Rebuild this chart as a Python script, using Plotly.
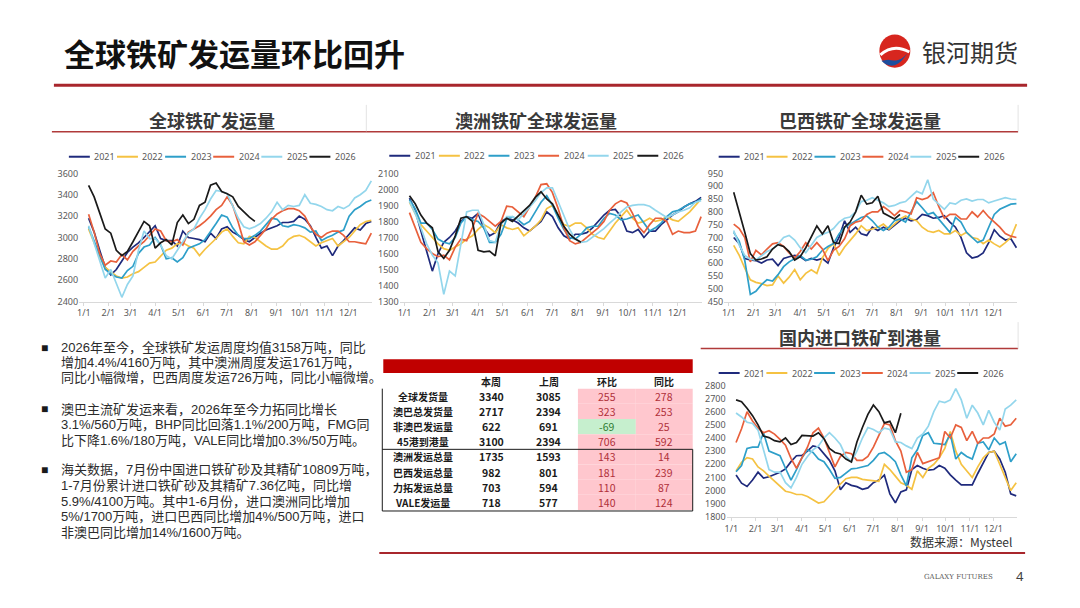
import pandas as pd
import plotly.graph_objects as go

W, H = 1080, 608
CJK = "Noto Sans CJK SC"
BODY = "Liberation Sans, Noto Sans CJK SC"


def px(x):
    return x / W


def py(y):
    return 1 - y / H


# ---- data -------------------------------------------------------------
years = ["2021", "2022", "2023", "2024", "2025", "2026"]
line_colors = ["#1F2A7C", "#F5C242", "#2E9FC9", "#E8603C", "#93D6EC", "#1A1A1A"]
weeks = pd.date_range("2021-01-07", periods=52, freq="7D")  # seasonal weekly axis

# 全球铁矿发运量
glb_2021 = [3180, 3050, 2880, 2720, 2650, 2700, 2780, 2860, 2910, 2950, 3000, 3060, 3110, 2990, 2970, 2970,
            2920, 3060, 3000, 2990, 2980, 2960, 3040, 2990, 3080, 3100, 3050, 3020, 2980, 2960, 3000, 3040,
            3070, 3090, 3110, 3140, 3140, 3150, 3200, 3170, 3110, 3000, 2900, 2920, 2830, 2920, 2970, 3030,
            3090, 3070, 3130, 3150]
glb_2022 = [3080, 2950, 2820, 2720, 2680, 2640, 2620, 2630, 2660, 2680, 2720, 2760, 2770, 2830, 2880, 2900,
            2940, 2950, 2920, 2900, 2830, 2890, 2940, 2990, 3050, 3080, 3010, 2950, 2940, 3010, 3000, 2960,
            2920, 2890, 2890, 2920, 2980, 3010, 3020, 3000, 2960, 2920, 2950, 2970, 2990, 2920, 2960, 3000,
            3060, 3120, 3150, 3160]
glb_2023 = [3100, 2960, 2830, 2700, 2660, 2630, 2620, 2690, 2730, 2850, 2910, 2930, 3000, 2930, 2800, 2810,
            2770, 2810, 2900, 2920, 2940, 2980, 3050, 3130, 3210, 3190, 3090, 3020, 2990, 2990, 3020, 3060,
            3120, 3180, 3170, 3110, 3100, 3120, 3110, 3090, 3050, 3060, 2970, 3000, 3020, 3050, 3070, 3200,
            3260, 3290, 3330, 3350]
glb_2024 = [3217, 3050, 2850, 2740, 2780, 2770, 2840, 2790, 2870, 2920, 2960, 3020, 3080, 3060, 2970, 2960,
            2980, 2930, 3050, 3080, 3110, 3150, 3200, 3260, 3300, 3380, 3300, 3140, 2960, 2930, 2960, 3020,
            3080, 3170, 3220, 3250, 3270, 3270, 3250, 3200, 3100, 3030, 3000, 3040, 3060, 3060, 3020, 2960,
            2960, 2950, 2940, 3040]
glb_2025 = [3110, 2950, 2800, 2620, 2700, 2560, 2440, 2560, 2640, 2880, 3060, 2990, 2990, 2930, 2830, 2800,
            2880, 2950, 3040, 3080, 3180, 3260, 3360, 3440, 3430, 3410, 3290, 3180, 3100, 3080, 3100, 3130,
            3180, 3240, 3330, 3260, 3300, 3290, 3300, 3400, 3320, 3310, 3290, 3260, 3250, 3290, 3270, 3300,
            3370, 3400, 3440, 3530]
glb_2026 = [3487, 3380, 3230, 3080, 3040, 2880, 2830, 2870, 2960, 3050, 3150, 3110, 2900, 2950, 2980, 2930,
            3140, 3210, 3130, 3170, 3300, 3330, 3490, 3510, 3430, 3410, 3380, 3290, 3240, 3190, 3150]

# 澳洲铁矿全球发运量
au_2021 = [1945, 1870, 1740, 1610, 1490, 1600, 1670, 1700, 1740, 1800, 1830, 1820, 1850, 1760, 1710, 1730,
           1800, 1820, 1810, 1790, 1760, 1740, 1770, 1800, 1860, 1830, 1760, 1710, 1690, 1720, 1720, 1730,
           1760, 1800, 1840, 1870, 1875, 1830, 1740, 1730, 1750, 1700, 1740, 1740, 1780, 1810, 1840, 1860,
           1890, 1910, 1925, 1950]
au_2022 = [1920, 1850, 1780, 1740, 1700, 1660, 1630, 1620, 1640, 1660, 1690, 1710, 1750, 1780, 1760, 1730,
           1780, 1760, 1750, 1760, 1710, 1740, 1770, 1810, 1880, 1900, 1840, 1780, 1770, 1790, 1790, 1760,
           1720, 1700, 1690, 1740, 1790, 1830, 1870, 1820, 1790, 1800, 1820, 1800, 1810, 1830, 1810, 1800,
           1830, 1860, 1900, 1940]
au_2023 = [1935, 1880, 1790, 1790, 1750, 1690, 1670, 1660, 1700, 1790, 1830, 1810, 1800, 1760, 1670, 1670,
           1720, 1815, 1830, 1810, 1780, 1800, 1860, 1920, 1960, 1900, 1820, 1750, 1700, 1690, 1720, 1760,
           1770, 1770, 1820, 1850, 1840, 1810, 1815, 1830, 1840, 1790, 1740, 1760, 1790, 1830, 1860, 1870,
           1890, 1910, 1920, 1940]
au_2024 = [1855, 1760, 1670, 1630, 1600, 1580, 1590, 1560, 1640, 1690, 1680, 1760, 1850, 1830, 1800, 1770,
           1800, 1895, 1890, 1860, 1830, 1890, 1950, 2030, 2035, 1980, 1880, 1760, 1680, 1660, 1670, 1700,
           1730, 1760, 1800, 1870, 1910, 1930, 1915, 1850, 1770, 1730, 1780, 1820, 1820, 1800, 1720, 1740,
           1730, 1730, 1740, 1830]
au_2025 = [1925, 1850, 1760, 1660, 1590, 1540, 1345, 1490, 1460, 1650, 1860, 1870, 1870, 1780, 1680, 1670,
           1780, 1830, 1830, 1810, 1850, 1890, 1930, 1980, 2010, 2010, 1920, 1830, 1750, 1690, 1670, 1675,
           1700, 1730, 1755, 1790, 1820, 1860, 1890, 1900, 1905, 1905, 1895, 1870, 1850, 1825, 1840, 1860,
           1870, 1885, 1920, 1930]
au_2026 = [1960, 1910, 1840, 1790, 1760, 1610, 1570, 1620, 1710, 1820, 1830, 1800, 1620, 1610, 1615, 1585,
           1790, 1820, 1800, 1835, 1870, 1900, 1950, 1985, 1940, 1910, 1840, 1770, 1720, 1690, 1670]

# 巴西铁矿全球发运量
br_2021 = [700, 676, 618, 612, 610, 600, 612, 615, 590, 618, 625, 630, 625, 610, 618, 612,
           618, 600, 660, 700, 765, 720, 740, 714, 708, 740, 727, 740, 730, 746, 765, 775,
           765, 770, 790, 785, 775, 778, 785, 760, 740, 700, 640, 620, 625, 640, 680, 730,
           705, 690, 695, 660]
br_2022 = [669, 630, 580, 535, 525, 520, 512, 515, 550, 522, 545, 575, 535, 560, 574, 560,
           620, 657, 676, 630, 663, 690, 714, 746, 727, 733, 740, 752, 733, 752, 772, 784,
           772, 765, 740, 725, 720, 727, 714, 714, 727, 708, 720, 700, 695, 676, 690, 675,
           663, 680, 700, 752]
br_2023 = [720, 685, 610, 478, 490, 516, 535, 530, 555, 586, 605, 618, 630, 612, 615, 625,
           650, 665, 676, 714, 740, 752, 765, 778, 784, 765, 740, 727, 740, 765, 772, 760,
           800, 840, 816, 790, 797, 770, 745, 720, 778, 760, 720, 700, 680, 690, 740, 790,
           810, 820, 830, 832]
br_2024 = [752, 735, 700, 605, 650, 632, 655, 675, 680, 665, 640, 620, 645, 680, 655, 680,
           655, 610, 650, 665, 695, 745, 760, 765, 790, 800, 800, 820, 805, 785, 805, 800,
           792, 855, 848, 855, 875, 820, 775, 790, 790, 772, 772, 800, 780, 805, 780, 760,
           740, 715, 705, 700]
br_2025 = [727, 670, 630, 615, 612, 630, 645, 655, 675, 700, 708, 690, 660, 640, 670, 700,
           712, 720, 735, 760, 775, 780, 800, 840, 845, 855, 845, 835, 820, 825, 835, 840,
           860, 880, 870, 925, 850, 830, 810, 835, 830, 845, 850, 842, 848, 848, 835, 842,
           850, 855, 850, 848]
br_2026 = [876, 800, 720, 637, 612, 616, 625, 655, 672, 665, 645, 612, 625, 660, 700, 745,
           714, 746, 680, 676, 740, 760, 800, 865, 830, 835, 861, 795, 784, 772, 790]

# 国内进口铁矿到港量
port_2021 = [2118, 2056, 2031, 2080, 2140, 2095, 2105, 2120, 2140, 2165, 2220, 2265, 2268, 2300, 2340, 2330,
             2280, 2230, 2150, 2006, 2060, 2040, 2030, 2010, 2020, 2060, 2080, 2118, 1975, 1907, 1990, 2005,
             2160, 2190, 2170, 2155, 2160, 2190, 2170, 2120, 2080, 2043, 2043, 2043, 2130, 2205, 2290, 2300,
             2240, 2140, 1975, 1960]
port_2022 = [2150, 2215, 2250, 2240, 2180, 2150, 2110, 2070, 2030, 1995, 1985, 1970, 1970, 1955, 1930, 1905,
             1915, 1960, 2010, 2050, 2090, 2100, 2100, 2085, 2080, 2075, 2070, 2200, 2160, 2110, 2060, 2040,
             2010, 2150, 2100, 2170, 2200, 2250, 2320, 2450, 2300, 2200, 2150, 2100, 2180, 2250, 2290, 2300,
             2200, 2100, 2000, 2060]
port_2023 = [2143, 2190, 2320, 2330, 2330, 2440, 2300, 2280, 2265, 2170, 2080, 2160, 2250, 2310, 2290, 2240,
             2220, 2160, 2093, 2100, 2130, 2165, 2170, 2180, 2190, 2230, 2280, 2290, 2260, 2220, 2120, 2035,
             2250, 2310, 2420, 2440, 2360, 2355, 2350, 2430, 2240, 2290, 2260, 2240, 2360, 2370, 2310, 2400,
             2350, 2370, 2220, 2280]
port_2024 = [2366, 2470, 2600, 2530, 2475, 2440, 2455, 2430, 2390, 2345, 2245, 2170, 2250, 2330, 2440, 2475,
             2400, 2290, 2180, 2260, 2290, 2280, 2230, 2230, 2260, 2330, 2420, 2510, 2500, 2380, 2300, 2140,
             2160, 2290, 2205, 2220, 2230, 2250, 2450, 2400, 2500, 2480, 2380, 2450, 2360, 2400, 2400, 2430,
             2550, 2490, 2500, 2550]
port_2025 = [2590, 2560, 2520, 2510, 2460, 2320, 2160, 2140, 2140, 2060, 2020, 2100, 2200, 2260, 2310, 2340,
             2400, 2440, 2400, 2350, 2260, 2220, 2300, 2400, 2480, 2465, 2440, 2475, 2465, 2370, 2366, 2340,
             2320, 2400, 2430, 2490, 2600, 2680, 2670, 2690, 2775, 2690, 2550, 2650, 2590, 2500, 2610, 2520,
             2460, 2620, 2650, 2690]
port_2026 = [2690, 2676, 2626, 2570, 2500, 2415, 2403, 2380, 2370, 2400, 2350, 2366, 2420, 2420, 2415, 2440,
             2395, 2320, 2290, 2279, 2240, 2217, 2370, 2480, 2580, 2651, 2600, 2515, 2527, 2440, 2589]

# 周度数据表
row_names = ["全球发货量", "澳巴总发货量", "非澳巴发运量", "45港到港量",
             "澳洲发运总量", "巴西发运总量", "力拓发运总量", "VALE发运量"]
this_week = [3340, 2717, 622, 3100, 1735, 982, 703, 718]
last_week = [3085, 2394, 691, 2394, 1593, 801, 594, 577]
wow = [255, 323, -69, 706, 143, 181, 110, 140]
yoy = [278, 253, 25, 592, 14, 239, 87, 124]
col_names = ["本周", "上周", "环比", "同比"]

bullets = [
    ["2026年至今，全球铁矿发运周度均值3158万吨，同比",
     "增加4.4%/4160万吨，其中澳洲周度发运1761万吨，",
     "同比小幅微增，巴西周度发运726万吨，同比小幅微增。"],
    ["澳巴主流矿发运来看，2026年至今力拓同比增长",
     "3.1%/560万吨，BHP同比回落1.1%/200万吨，FMG同",
     "比下降1.6%/180万吨，VALE同比增加0.3%/50万吨。"],
    ["海关数据，7月份中国进口铁矿砂及其精矿10809万吨，",
     "1-7月份累计进口铁矿砂及其精矿7.36亿吨，同比增",
     "5.9%/4100万吨。其中1-6月份，进口澳洲同比增加",
     "5%/1700万吨，进口巴西同比增加4%/500万吨，进口",
     "非澳巴同比增加14%/1600万吨。"],
]

# ---- figure -----------------------------------------------------------
fig = go.Figure()
shapes = []
annos = []


def label(x, y, text, size, color="#333333", family=CJK, anchor="center", yanchor="middle"):
    annos.append(dict(x=px(x), y=py(y), xref="paper", yref="paper", text=text, showarrow=False,
                      xanchor=anchor, yanchor=yanchor, align="left",
                      font=dict(family=family, size=size, color=color)))


def hline(x0, x1, y, color, width):
    shapes.append(dict(type="line", xref="paper", yref="paper", x0=px(x0), x1=px(x1),
                       y0=py(y), y1=py(y), line=dict(color=color, width=width), layer="above"))


def vline(x, y0, y1, color, width):
    shapes.append(dict(type="line", xref="paper", yref="paper", x0=px(x), x1=px(x),
                       y0=py(y0), y1=py(y1), line=dict(color=color, width=width), layer="above"))


panels = [
    dict(title="全球铁矿发运量", series=[glb_2021, glb_2022, glb_2023, glb_2024, glb_2025, glb_2026],
         yrange=[2400, 3600], dtick=200, jan1=82, dec1=347, top=170, bottom=301,
         title_x=210, title_y=115, leg_x=67, leg_y=153, leg_step=48.2),
    dict(title="澳洲铁矿全球发运量", series=[au_2021, au_2022, au_2023, au_2024, au_2025, au_2026],
         yrange=[1300, 2100], dtick=100, jan1=403.3, dec1=676.7, top=170, bottom=301,
         title_x=535, title_y=115, leg_x=388, leg_y=152, leg_step=49.7),
    dict(title="巴西铁矿全球发运量", series=[br_2021, br_2022, br_2023, br_2024, br_2025, br_2026],
         yrange=[450, 950], dtick=50, jan1=728.3, dec1=993.3, top=170, bottom=301,
         title_x=860, title_y=115, leg_x=718, leg_y=153, leg_step=48),
    dict(title="国内进口铁矿到港量", series=[port_2021, port_2022, port_2023, port_2024, port_2025, port_2026],
         yrange=[1800, 2800], dtick=100, jan1=730.7, dec1=993.3, top=386.7, bottom=521,
         title_x=860, title_y=337, leg_x=718, leg_y=374, leg_step=47.8),
]

for i, p in enumerate(panels, start=1):
    sfx = "" if i == 1 else str(i)
    ppd = (p["dec1"] - p["jan1"]) / 334
    left = p["jan1"] - 6 * ppd
    right = p["jan1"] + 364 * ppd
    for year, color, vals in zip(years, line_colors, p["series"]):
        fig.add_trace(go.Scatter(
            x=weeks[:len(vals)], y=vals, name=year, mode="lines",
            line=dict(color=color, width=1.7), showlegend=False,
            xaxis="x" + sfx, yaxis="y" + sfx,
        ))
    fig.layout["xaxis" + sfx] = dict(
        type="date", domain=[px(left), px(right)], range=["2020-12-26", "2021-12-31"],
        anchor="y" + sfx, tick0="2021-01-01", dtick="M1", tickformat="%-m/%-d",
        showline=True, linecolor="#D9D9D9", linewidth=1, ticks="outside", ticklen=3,
        tickcolor="#D9D9D9", showgrid=False, zeroline=False,
        tickfont=dict(size=9, color="#595959", family="Noto Sans"),
    )
    fig.layout["yaxis" + sfx] = dict(
        domain=[py(p["bottom"]), py(p["top"])], range=p["yrange"], dtick=p["dtick"],
        anchor="x" + sfx, showgrid=False, zeroline=False, showline=False, ticks="",
        tickfont=dict(size=9, color="#595959", family="Noto Sans"),
    )
    # panel title
    label(p["title_x"], p["title_y"], "<b>" + p["title"] + "</b>", 18, "#3A3A3A")
    # legend
    for j, (year, color) in enumerate(zip(years, line_colors)):
        x0 = p["leg_x"] + j * p["leg_step"]
        hline(x0, x0 + 21, p["leg_y"], color, 2)
        label(x0 + 23.5, p["leg_y"], year, 9, "#595959", "Noto Sans", "left")

# panel title underlines and box edges
hline(50, 1018, 127.5, "#B03A3A", 1.5)
hline(700, 1018, 349, "#B03A3A", 1.5)
for xv, y0, y1 in [(365, 100, 127), (1018, 100, 127), (1018, 322, 349)]:
    vline(xv, y0, y1, "#E3E3E3", 1)

# ---- table ------------------------------------------------------------
pink, green = "#FFC7CE", "#C6EFCE"
red_txt, green_txt = "#B0303A", "#2E7D32"
col_x = [421.5, 490, 548, 606, 663.5]
col_edges = [(577, 635), (635, 692)]
row_h = 15.5
row0 = 390

shapes.append(dict(type="rect", xref="paper", yref="paper", x0=px(382), x1=px(692),
                   y0=py(374), y1=py(360), fillcolor="#C00000", line=dict(width=0)))
for c, name in enumerate(col_names, start=1):
    label(col_x[c], 382.5, "<b>" + name + "</b>", 10, "#1A1A1A")

for r, name in enumerate(row_names):
    yc = row0 + row_h * (r + 0.5)
    label(col_x[0], yc, "<b>" + name + "</b>", 10, "#1A1A1A")
    label(col_x[1], yc, "<b>" + str(this_week[r]) + "</b>", 10.5, "#1A1A1A")
    label(col_x[2], yc, "<b>" + str(last_week[r]) + "</b>", 10.5, "#1A1A1A")
    for (x0, x1), v, cx in zip(col_edges, [wow[r], yoy[r]], col_x[3:]):
        shapes.append(dict(type="rect", xref="paper", yref="paper", x0=px(x0), x1=px(x1),
                           y0=py(row0 + row_h * (r + 1)), y1=py(row0 + row_h * r),
                           fillcolor=pink if v > 0 else green, line=dict(width=0), layer="below"))
        label(cx, yc, str(v), 10.5, red_txt if v > 0 else green_txt)

split_y = row0 + row_h * 4
bottom_y = row0 + row_h * len(row_names)
vline(381, row0, bottom_y + 1, "#1A1A1A", 1)
hline(381, 692, split_y, "#1A1A1A", 1)
vline(692, split_y, bottom_y + 1, "#1A1A1A", 1)
hline(381, 692, bottom_y + 1, "#1A1A1A", 1)

# ---- bullet text --------------------------------------------------------
line_y = [[348, 363.5, 379], [411, 427, 443], [473, 489, 505, 521, 537]]
for lines, ys in zip(bullets, line_y):
    label(43, ys[0], "■", 12, "#1A1A1A", BODY)
    for t, yv in zip(lines, ys):
        label(57, yv, t, 13, "#2B2B2B", BODY, "left")

# ---- header, logo, footer ---------------------------------------------
label(60, 47, "<b>全球铁矿发运量环比回升</b>", 31, "#111111", CJK, "left")
label(920, 45, "银河期货", 24, "#333333", CJK, "left")
hline(52, 1027, 80, "#A8262C", 3)

shapes.append(dict(type="circle", xref="paper", yref="paper", x0=px(879), x1=px(910),
                   y0=py(62), y1=py(28), fillcolor="#D7261E", line=dict(width=0)))
shapes.append(dict(type="path", xref="paper", yref="paper", fillcolor="#1D4E9E", line=dict(width=0),
                   path=f"M{px(881)},{py(55)} Q{px(896)},{py(70)} {px(911)},{py(40)} "
                        f"Q{px(903)},{py(58)} {px(888)},{py(54)} Z"))
shapes.append(dict(type="path", xref="paper", yref="paper", line=dict(color="white", width=3),
                   path=f"M{px(880)},{py(49)} Q{px(893)},{py(37)} {px(909)},{py(46)}"))

label(908, 546, "数据来源：Mysteel", 12, "#333333", CJK, "left")
hline(378, 1025, 558, "#A8262C", 2)
label(958, 582, "GALAXY FUTURES", 7, "#595959", "DejaVu Serif")
label(1020, 581, "4", 13, "#404040", "Noto Sans")

fig.update_layout(
    width=W, height=H, margin=dict(l=0, r=0, t=0, b=0),
    paper_bgcolor="white", plot_bgcolor="white",
    shapes=shapes, annotations=annos, showlegend=False,
)

fig.write_html("out.html", config={"displayModeBar": False},
               post_script="document.body.style.margin='0';")
